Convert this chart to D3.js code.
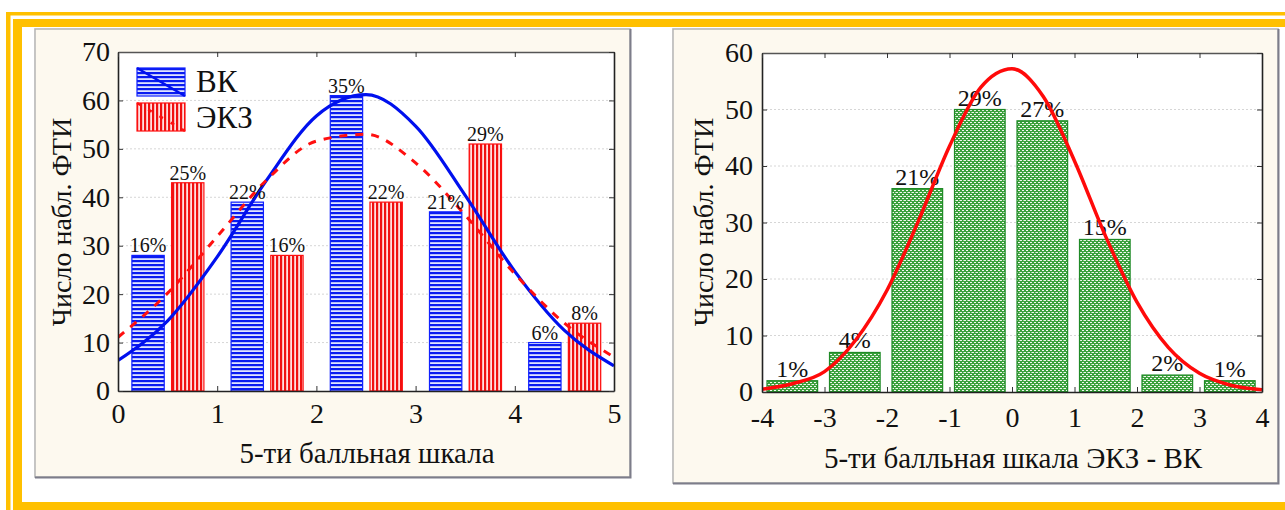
<!DOCTYPE html>
<html>
<head>
<meta charset="utf-8">
<script src="https://cdn.jsdelivr.net/npm/d3@7"></script>
<style>
  body { margin: 0; background: #fff; }
  svg { display: block; }
  text { font-family: "Liberation Serif", "Times New Roman", "DejaVu Serif", serif; fill: #111; }
</style>
</head>
<body>
<svg width="1285" height="510"></svg>
<script>
// left chart: 5-point scale, two groups
var binStarts = [0, 1, 2, 3, 4]
var vkCounts = [28, 39, 61, 37, 10]
var vkPct = ['16%', '22%', '35%', '21%', '6%']
var ekzCounts = [43, 28, 39, 51, 14]
var ekzPct = ['25%', '16%', '22%', '29%', '8%']
// fitted normal curves, every 0.5
var fitXLeft = [0, 0.5, 1, 1.5, 2, 2.5, 3, 3.5, 4, 4.5, 5]
var vkFit = [6.3, 14.5, 27.7, 43.6, 56.8, 61.2, 54.7, 40.4, 24.7, 12.5, 5.2]
var ekzFit = [11.1, 20.2, 31.9, 43.6, 51.6, 53.0, 47.1, 36.3, 24.2, 14.0, 7.0]
var leftXTicks = [0, 1, 2, 3, 4, 5]
var leftYTicks = [0, 10, 20, 30, 40, 50, 60, 70]

// right chart: difference ЭКЗ - ВК
var diffBins = [-4, -3, -2, -1, 0, 1, 2, 3]
var diffCounts = [2, 7, 36, 50, 48, 27, 3, 2]
var diffPct = ['1%', '4%', '21%', '29%', '27%', '15%', '2%', '1%']
var fitXRight = [-4, -3.5, -3, -2.5, -2, -1.5, -1, -0.5, 0, 0.5, 1, 1.5, 2, 2.5, 3, 3.5, 4]
var diffFit = [0.5, 1.5, 3.6, 9.2, 18.0, 30.2, 43.5, 53.9, 57.2, 52.3, 40.9, 27.5, 15.9, 7.9, 3.3, 1.2, 0.4]
var rightXTicks = [-4, -3, -2, -1, 0, 1, 2, 3, 4]
var rightYTicks = [0, 10, 20, 30, 40, 50, 60]

var serif = '"Liberation Serif", "Times New Roman", "DejaVu Serif", serif'
var svg = d3.select('svg')
var yellow = '#ffc000'

// patterns
var defs = svg.append('defs')
var ph = defs.append('pattern').attr('id', 'hblue')
  .attr('patternUnits', 'userSpaceOnUse').attr('width', 8).attr('height', 4)
ph.append('rect').attr('width', 8).attr('height', 4).attr('fill', '#dfe4ff')
ph.append('rect').attr('width', 8).attr('height', 2.2).attr('fill', '#0a1cf0')
var pv = defs.append('pattern').attr('id', 'vred')
  .attr('patternUnits', 'userSpaceOnUse').attr('width', 4).attr('height', 8)
pv.append('rect').attr('width', 4).attr('height', 8).attr('fill', '#ffe0e0')
pv.append('rect').attr('width', 2.2).attr('height', 8).attr('fill', '#f01010')
var pg = defs.append('pattern').attr('id', 'green')
  .attr('patternUnits', 'userSpaceOnUse').attr('width', 4).attr('height', 4)
pg.append('rect').attr('width', 4).attr('height', 4).attr('fill', '#3aa13c')
pg.append('rect').attr('x', 0).attr('y', 0).attr('width', 2).attr('height', 1).attr('fill', '#f2f8f0')
pg.append('rect').attr('x', 2).attr('y', 2).attr('width', 2).attr('height', 1).attr('fill', '#f2f8f0')
pg.append('rect').attr('x', 3).attr('y', 0).attr('width', 1).attr('height', 1).attr('fill', '#9fd09a')

// yellow frame
svg.append('rect').attr('x', 6).attr('y', 12).attr('width', 1285).attr('height', 3.5).attr('fill', yellow)
svg.append('rect').attr('x', 6).attr('y', 12).attr('width', 4.5).attr('height', 500).attr('fill', yellow)
svg.append('rect').attr('x', 13).attr('y', 19).attr('width', 1285).attr('height', 8).attr('fill', yellow)
svg.append('rect').attr('x', 13).attr('y', 19).attr('width', 9).attr('height', 500).attr('fill', yellow)
svg.append('rect').attr('x', 13).attr('y', 502).attr('width', 1285).attr('height', 8).attr('fill', yellow)

function panel(x0, y0, x1, y1) {
  svg.append('rect').attr('x', x0 - 1).attr('y', y0 - 1).attr('width', x1 - x0 + 2).attr('height', y1 - y0 + 2)
    .attr('fill', '#f2f2f2')
  svg.append('rect').attr('x', x0).attr('y', y0).attr('width', x1 - x0).attr('height', y1 - y0)
    .attr('fill', '#fdf9ef').attr('stroke', '#b5b5b5').attr('stroke-width', 1.5)
  svg.append('path').attr('d', 'M' + (x1 + 0.5) + ',' + y0 + 'V' + (y1 + 0.5) + 'H' + x0)
    .attr('fill', 'none').attr('stroke', '#7d7d8a').attr('stroke-width', 2)
}

function frame(g, x, y, yTicks) {
  var w = x.range()[1] - x.range()[0]
  var h = y.range()[0] - y.range()[1]
  g.append('rect').attr('x', x.range()[0]).attr('y', y.range()[1]).attr('width', w).attr('height', h).attr('fill', '#fff')
  g.append('g').selectAll('line').data(yTicks.slice(1, -1)).enter().append('line')
    .attr('x1', x.range()[0]).attr('x2', x.range()[1])
    .attr('y1', function(d) { return y(d) }).attr('y2', function(d) { return y(d) })
    .attr('stroke', '#d6d6d6').attr('stroke-dasharray', '2,2')
}

function axes(g, x, y, xTicks, yTicks, opts) {
  var fmt = function(d) { return String(d) }
  var gb = g.append('g').attr('transform', 'translate(0,' + y.range()[0] + ')')
    .call(d3.axisBottom(x).tickValues(xTicks).tickSize(-5).tickPadding(opts.xPad).tickSizeOuter(0).tickFormat(fmt))
  var gl = g.append('g').attr('transform', 'translate(' + x.range()[0] + ',0)')
    .call(d3.axisLeft(y).tickValues(yTicks).tickSize(-5).tickPadding(opts.yPad).tickSizeOuter(0).tickFormat(fmt))
  var gt = g.append('g').attr('transform', 'translate(0,' + y.range()[1] + ')')
    .call(d3.axisTop(x).tickValues(xTicks).tickSize(-5).tickSizeOuter(0).tickFormat(''))
  var gr = g.append('g').attr('transform', 'translate(' + x.range()[1] + ',0)')
    .call(d3.axisRight(y).tickValues(yTicks).tickSize(-5).tickSizeOuter(0).tickFormat(''))
  ;[gb, gl, gt, gr].forEach(function(a) {
    a.attr('font-family', serif)
    a.selectAll('path').attr('stroke', '#222').attr('stroke-width', 1.6)
    a.selectAll('line').attr('stroke', '#333')
    a.selectAll('text').style('font-family', serif).style('font-size', '28px').attr('fill', '#111')
  })
  gt.selectAll('path').attr('stroke', '#555')
}

function label(x, y, size, txt, rotate) {
  var t = svg.append('text').attr('text-anchor', 'middle')
    .style('font-family', serif).style('font-size', size + 'px').text(txt)
  if (rotate) t.attr('transform', 'translate(' + x + ',' + y + ') rotate(-90)')
  else t.attr('x', x).attr('y', y)
  return t
}

// ---------- left chart ----------
panel(35, 29, 630, 477)
var xl = d3.scaleLinear().domain([0, 5]).range([118, 614])
var yl = d3.scaleLinear().domain([0, 70]).range([391, 52])
var gL = svg.append('g')
frame(gL, xl, yl, leftYTicks)

defs.append('clipPath').attr('id', 'clipL').append('rect')
  .attr('x', 118).attr('y', 52).attr('width', 496).attr('height', 339)

var bw = 0.326
gL.append('g').selectAll('rect').data(binStarts).enter().append('rect')
  .attr('x', function(d) { return xl(d + 0.14) })
  .attr('y', function(d, i) { return yl(vkCounts[i]) })
  .attr('width', xl(bw) - xl(0))
  .attr('height', function(d, i) { return yl(0) - yl(vkCounts[i]) })
  .attr('fill', 'url(#hblue)').attr('stroke', '#1020ff').attr('stroke-width', 1.2)
gL.append('g').selectAll('rect').data(binStarts).enter().append('rect')
  .attr('x', function(d) { return xl(d + 0.54) })
  .attr('y', function(d, i) { return yl(ekzCounts[i]) })
  .attr('width', xl(bw) - xl(0))
  .attr('height', function(d, i) { return yl(0) - yl(ekzCounts[i]) })
  .attr('fill', 'url(#vred)').attr('stroke', '#ff1010').attr('stroke-width', 1.2)

var lineL = d3.line().x(function(d) { return xl(d[0]) }).y(function(d) { return yl(d[1]) }).curve(d3.curveMonotoneX)
gL.append('path').datum(d3.zip(fitXLeft, vkFit)).attr('d', lineL).attr('clip-path', 'url(#clipL)')
  .attr('fill', 'none').attr('stroke', '#0010ee').attr('stroke-width', 3.2)
gL.append('path').datum(d3.zip(fitXLeft, ekzFit)).attr('d', lineL).attr('clip-path', 'url(#clipL)')
  .attr('fill', 'none').attr('stroke', '#ff1010').attr('stroke-width', 3).attr('stroke-dasharray', '8,8')

gL.append('g').selectAll('text').data(binStarts).enter().append('text')
  .attr('x', function(d) { return xl(d + 0.14 + bw / 2) })
  .attr('y', function(d, i) { return yl(vkCounts[i]) - 3 })
  .attr('text-anchor', 'middle').style('font-family', serif).style('font-size', '20px')
  .text(function(d, i) { return vkPct[i] })
gL.append('g').selectAll('text').data(binStarts).enter().append('text')
  .attr('x', function(d) { return xl(d + 0.54 + bw / 2) })
  .attr('y', function(d, i) { return yl(ekzCounts[i]) - 3 })
  .attr('text-anchor', 'middle').style('font-family', serif).style('font-size', '20px')
  .text(function(d, i) { return ekzPct[i] })

axes(gL, xl, yl, leftXTicks, leftYTicks, { xPad: 12, yPad: 8 })

// legend
var lg = gL.append('g')
lg.append('rect').attr('x', 137).attr('y', 68).attr('width', 48).attr('height', 28)
  .attr('fill', 'url(#hblue)').attr('stroke', '#1020ff').attr('stroke-width', 1.2)
lg.append('line').attr('x1', 137).attr('y1', 68).attr('x2', 185).attr('y2', 96)
  .attr('stroke', '#0010ee').attr('stroke-width', 2.5)
lg.append('rect').attr('x', 137).attr('y', 103).attr('width', 48).attr('height', 28)
  .attr('fill', 'url(#vred)').attr('stroke', '#ff1010').attr('stroke-width', 1.2)
lg.append('line').attr('x1', 137).attr('y1', 103).attr('x2', 185).attr('y2', 131)
  .attr('stroke', '#ff1010').attr('stroke-width', 2.5).attr('stroke-dasharray', '4,9')
lg.append('text').attr('x', 196).attr('y', 92).style('font-family', serif).style('font-size', '31px').text('ВК')
lg.append('text').attr('x', 196).attr('y', 128).style('font-family', serif).style('font-size', '31px').text('ЭКЗ')

label(71, 222, 28, 'Число набл.  ФТИ', true)
label(367, 463, 29, '5-ти балльная шкала')

// ---------- right chart ----------
panel(673, 29, 1278, 483)
var xr = d3.scaleLinear().domain([-4, 4]).range([762, 1262])
var yr = d3.scaleLinear().domain([0, 60]).range([392, 53])
var gR = svg.append('g')
frame(gR, xr, yr, rightYTicks)

defs.append('clipPath').attr('id', 'clipR').append('rect')
  .attr('x', 762).attr('y', 53).attr('width', 500).attr('height', 339)

gR.append('g').selectAll('rect').data(diffBins).enter().append('rect')
  .attr('x', function(d) { return xr(d + 0.08) })
  .attr('y', function(d, i) { return yr(diffCounts[i]) })
  .attr('width', xr(0.81) - xr(0))
  .attr('height', function(d, i) { return yr(0) - yr(diffCounts[i]) })
  .attr('fill', 'url(#green)').attr('stroke', '#1f8a26').attr('stroke-width', 1.2)

gR.append('g').selectAll('text').data(diffBins).enter().append('text')
  .attr('x', function(d) { return xr(d + 0.485) })
  .attr('y', function(d, i) { return yr(diffCounts[i]) - 4 })
  .attr('text-anchor', 'middle').style('font-family', serif).style('font-size', '24px')
  .text(function(d, i) { return diffPct[i] })

var lineR = d3.line().x(function(d) { return xr(d[0]) }).y(function(d) { return yr(d[1]) }).curve(d3.curveMonotoneX)
gR.append('path').datum(d3.zip(fitXRight, diffFit)).attr('d', lineR).attr('clip-path', 'url(#clipR)')
  .attr('fill', 'none').attr('stroke', '#ff0a0a').attr('stroke-width', 3.5)

axes(gR, xr, yr, rightXTicks, rightYTicks, { xPad: 15, yPad: 9 })

label(713, 222, 28, 'Число набл.  ФТИ', true)
label(1013, 468, 29, '5-ти балльная шкала ЭКЗ - ВК')
</script>
</body>
</html>
